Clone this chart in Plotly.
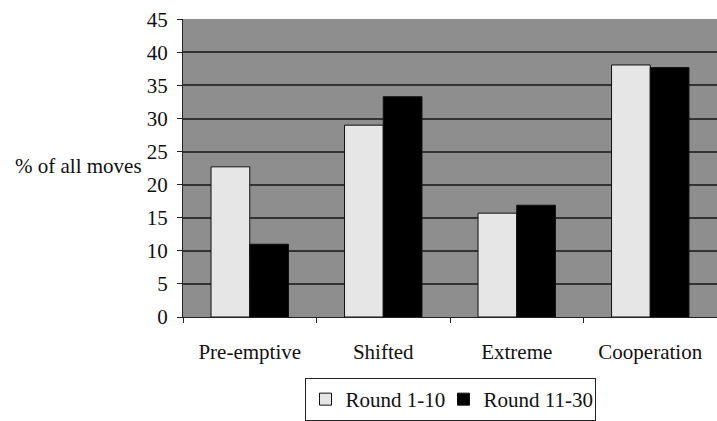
import plotly.graph_objects as go

categories = ["Pre-emptive", "Shifted", "Extreme", "Cooperation"]
round_1_10 = [22.7, 29.0, 15.7, 38.1]
round_11_30 = [11.0, 33.3, 16.9, 37.7]
series_names = ["Round 1-10", "Round 11-30"]
y_ticks = [0, 5, 10, 15, 20, 25, 30, 35, 40, 45]

fig = go.Figure()
fig.add_trace(go.Bar(x=categories, y=round_1_10, name=series_names[0], legendwidth=93,
                     marker=dict(color="#e6e6e6", line=dict(color="#111111", width=1))))
fig.add_trace(go.Bar(x=categories, y=round_11_30, name=series_names[1], legendwidth=106,
                     marker=dict(color="#000000", line=dict(color="#111111", width=1))))

font = dict(family="Liberation Serif, Times New Roman, serif", size=21, color="#111111")

fig.update_layout(
    width=717, height=421,
    margin=dict(l=183, r=0, t=19, b=100, pad=0),
    paper_bgcolor="white",
    plot_bgcolor="#8e8e8e",
    font=font,
    barmode="group",
    bargap=0.42,
    bargroupgap=0,
    showlegend=True,
    legend=dict(orientation="h", x=0.5, xanchor="center", y=-0.205, yanchor="top",
                bordercolor="#222222", borderwidth=1, bgcolor="white",
                font=font, itemwidth=30, tracegroupgap=0),
    xaxis=dict(showgrid=False, showline=True, linecolor="#222222", linewidth=1,
               ticks="outside", tickson="boundaries", ticklen=5, tickcolor="#222222",
               tickfont=font, ticklabelstandoff=16),
    yaxis=dict(range=[0, 45.05], tickvals=y_ticks, showgrid=True, gridcolor="#333333",
               gridwidth=1.5, showline=True, linecolor="#222222", linewidth=1,
               ticks="outside", ticklen=5, tickcolor="#222222", tickfont=font,
               ticklabelstandoff=5, zeroline=False),
    annotations=[dict(text="% of all moves", xref="paper", yref="paper",
                      x=-0.318, y=0.507, xanchor="left", yanchor="middle",
                      showarrow=False, font=font)],
)

fig.write_html("out.html", post_script="document.body.style.margin='0';",
               config={"displayModeBar": False})
